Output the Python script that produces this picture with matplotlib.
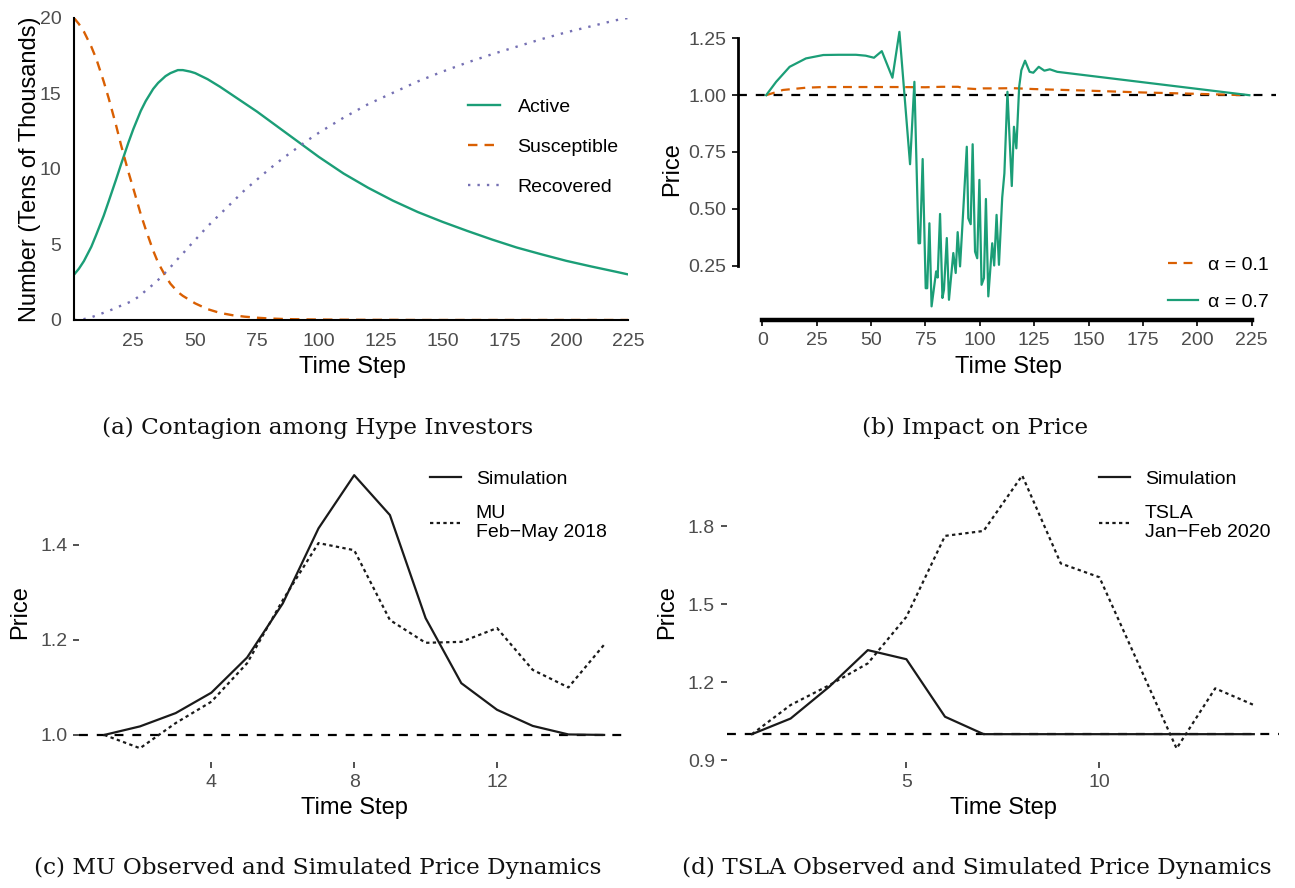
import matplotlib
matplotlib.use("Agg")
import matplotlib.pyplot as plt

plt.rcParams['font.family'] = ['Liberation Sans', 'DejaVu Sans']

# ---------------- data ----------------
# (a) contagion among hype investors (tens of thousands)
time_a = [1, 3, 5, 8, 10, 13, 15, 18, 20, 23, 25, 28, 30, 33, 35, 38, 40, 43, 45, 48, 50,
          55, 60, 65, 70, 75, 80, 85, 90, 95, 100,
          110, 120, 130, 140, 150, 160, 170, 180, 190, 200, 210, 220, 225]
active = [3.0, 3.4, 3.9, 4.85, 5.65, 6.9, 7.85, 9.3, 10.3, 11.75, 12.65, 13.85, 14.5, 15.3,
          15.7, 16.15, 16.35, 16.55, 16.55, 16.45, 16.35,
          15.95, 15.45, 14.9, 14.35, 13.8, 13.2, 12.6, 12.0, 11.4, 10.8,
          9.7, 8.75, 7.9, 7.15, 6.5, 5.9, 5.33, 4.8, 4.35, 3.92, 3.55, 3.2, 3.02]
susceptible = [20.0, 19.6, 19.1, 18.1, 17.3, 15.8, 14.7, 12.9, 11.6, 9.8, 8.7, 7.0, 6.0, 4.6,
               3.8, 2.9, 2.4, 1.85, 1.6, 1.3, 1.1,
               0.72, 0.47, 0.32, 0.22, 0.15, 0.1, 0.07, 0.05, 0.04, 0.03,
               0.02, 0.01, 0.01, 0.0, 0.0, 0.0, 0.0, 0.0, 0.0, 0.0, 0.0, 0.0, 0.0]
recovered = [0.0, 0.02, 0.06, 0.18, 0.3, 0.48, 0.6, 0.8, 0.95, 1.15, 1.3, 1.65, 1.95, 2.35,
             2.65, 3.15, 3.5, 4.05, 4.4, 4.95, 5.3,
             6.2, 7.0, 7.8, 8.6, 9.3, 10.0, 10.65, 11.25, 11.85, 12.4,
             13.4, 14.3, 15.05, 15.8, 16.45, 17.05, 17.6, 18.1, 18.6, 19.05, 19.45, 19.85,
             20.0]

# (b) impact on price
time_b_hi = [1.7, 6.3, 12.5, 20, 28, 35, 43, 47.5, 51.3, 54.9, 59.8, 63.0, 67.9, 69.9, 71.8,
             72.5, 73.7, 75.1, 75.8, 76.8, 77.8, 79.9, 80.6, 81.7, 82.8, 83.5, 84.8, 85.8,
             87.8, 88.9, 89.8, 90.9, 92.3, 94.0, 94.7, 95.8, 96.7, 97.8, 98.8, 99.8, 100.8,
             101.9, 102.8, 103.9, 105.7, 106.6, 107.7, 108.8, 110.3, 111.3, 112.7, 114.7,
             115.7, 116.8, 118.1, 119.1, 120.8, 122.9, 124.6, 127.1, 129.7, 132.2, 135.6, 224]
price_hi = [1.0, 1.059, 1.125, 1.162, 1.177, 1.178, 1.178, 1.174, 1.165, 1.194, 1.077, 1.279,
            0.696, 1.059, 0.348, 0.348, 0.719, 0.150, 0.150, 0.436, 0.070, 0.224, 0.197, 0.477,
            0.107, 0.143, 0.371, 0.099, 0.305, 0.217, 0.397, 0.246, 0.48, 0.773, 0.458, 0.432,
            0.784, 0.311, 0.282, 0.627, 0.165, 0.195, 0.543, 0.114, 0.348, 0.250, 0.473, 0.253,
            0.55, 0.656, 1.015, 0.60, 0.861, 0.766, 1.037, 1.11, 1.152, 1.103, 1.099, 1.125,
            1.108, 1.114, 1.103, 1.0]
time_b_lo = [1.7, 9.4, 20, 28, 60, 75, 82.5, 90, 93.2, 98.5, 101.6, 107.7, 115, 125, 150,
             175, 200, 222]
price_lo = [1.0, 1.023, 1.033, 1.036, 1.036, 1.035, 1.037, 1.037, 1.030, 1.027, 1.030, 1.030,
            1.031, 1.027, 1.020, 1.012, 1.006, 1.0]

# (c) MU
time_c = list(range(1, 16))
sim_mu = [1.0, 1.018, 1.046, 1.089, 1.163, 1.277, 1.435, 1.547, 1.463, 1.246, 1.109, 1.053,
          1.019, 1.001, 1.0]
obs_mu = [1.0, 0.972, 1.025, 1.070, 1.151, 1.284, 1.404, 1.389, 1.242, 1.194, 1.196, 1.225,
          1.137, 1.100, 1.19]

# (d) TSLA
time_d = list(range(1, 15))
sim_tsla = [1.0, 1.060, 1.182, 1.323, 1.288, 1.067, 1.0, 1.0, 1.0, 1.0, 1.0, 1.0, 1.0, 1.0]
obs_tsla = [1.0, 1.112, 1.188, 1.272, 1.451, 1.762, 1.781, 1.994, 1.656, 1.603, 1.274, 0.945,
            1.176, 1.112]

captions = ["(a) Contagion among Hype Investors", "(b) Impact on Price",
            "(c) MU Observed and Simulated Price Dynamics",
            "(d) TSLA Observed and Simulated Price Dynamics"]

# ---------------- style ----------------
GREEN, ORANGE, PURPLE = '#1B9E77', '#D95F02', '#7570B3'
TICKC = '#4D4D4D'
TITLE_FS = 17
TICK_FS = 14
LEG_FS = 14
W, H = 1295, 888

fig = plt.figure(figsize=(W / 100, H / 100), dpi=100)


def ax_at(l, t, r, b):
    return fig.add_axes([l / W, 1 - b / H, (r - l) / W, (b - t) / H])


def place_legend(ax, x, y, **kw):
    return ax.legend(loc='upper left', bbox_to_anchor=(x / W, 1 - y / H),
                     bbox_transform=fig.transFigure, frameon=False, fontsize=LEG_FS,
                     borderpad=0, borderaxespad=0, **kw)


# ---- (a) ----
axA = ax_at(74, 18, 628, 320)
axA.plot(time_a, active, color=GREEN, lw=1.7, label='Active')
axA.plot(time_a, susceptible, color=ORANGE, lw=1.7, ls=(0, (4, 3)), label='Susceptible')
axA.plot(time_a, recovered, color=PURPLE, lw=1.7, ls=(0, (1, 3)), label='Recovered')
axA.set_xlim(1, 225)
axA.set_ylim(0, 20)
axA.set_xticks(range(25, 226, 25))
axA.set_yticks([0, 5, 10, 15, 20])
for s in ['top', 'right']:
    axA.spines[s].set_visible(False)
for s in ['left', 'bottom']:
    axA.spines[s].set_linewidth(1.5)
    axA.spines[s].set_color('black')
axA.tick_params(length=0, labelsize=TICK_FS, labelcolor=TICKC, pad=9)
axA.set_xlabel('Time Step', fontsize=TITLE_FS)
axA.set_ylabel('Number (Tens of Thousands)', fontsize=TITLE_FS)
axA.xaxis.set_label_coords(0.502, -0.156)
axA.xaxis.label.set_va('center')
axA.yaxis.set_label_coords(-0.079, 0.5)
axA.yaxis.label.set_va('center')
place_legend(axA, 468, 98, handlelength=1.65, handletextpad=0.9, labelspacing=1.16)

# ---- (b) ----
axB = ax_at(738, 18, 1276, 320)
axB.axhline(1.0, color='black', lw=1.6, ls=(0, (4, 4)))
axB.plot(time_b_lo, price_lo, color=ORANGE, lw=1.6, ls=(0, (4, 3)), label='α = 0.1')
axB.plot(time_b_hi, price_hi, color=GREEN, lw=1.6, label='α = 0.7')
axB.set_xlim(-11.25, 236.25)
axB.set_ylim(0.01, 1.34)
axB.set_xticks(range(0, 226, 25))
axB.set_yticks([0.25, 0.5, 0.75, 1.0, 1.25])
axB.set_yticklabels(['0.25', '0.50', '0.75', '1.00', '1.25'])
for s in ['top', 'right']:
    axB.spines[s].set_visible(False)
axB.spines['left'].set_bounds(0.25, 1.25)
axB.spines['bottom'].set_bounds(0, 225)
axB.spines['left'].set_linewidth(2.0)
axB.spines['bottom'].set_linewidth(3.2)
axB.tick_params(length=4.5, width=1.2, color='black', labelsize=TICK_FS, labelcolor=TICKC,
                pad=4)
axB.set_xlabel('Time Step', fontsize=TITLE_FS)
axB.set_ylabel('Price', fontsize=TITLE_FS)
axB.xaxis.set_label_coords(0.502, -0.156)
axB.xaxis.label.set_va('center')
axB.yaxis.set_label_coords(-0.1227, 0.5)
axB.yaxis.label.set_va('center')
place_legend(axB, 1168, 256, handlelength=1.55, handletextpad=0.5, labelspacing=1.0)


# ---- (c) and (d) ----
def price_panel(box, t, sim, obs, obs_label, xlim, ylim, xt, yt, ytl, leg_x):
    ax = ax_at(*box)
    ax.axhline(1.0, color='black', lw=1.6, ls=(0, (4, 4)))
    ax.plot(t, sim, color='#1a1a1a', lw=1.6, label='Simulation')
    ax.plot(t, obs, color='#1a1a1a', lw=1.6, ls=(0, (1.5, 1.5)), label=obs_label)
    ax.set_xlim(*xlim)
    ax.set_ylim(*ylim)
    ax.set_xticks(xt)
    ax.set_yticks(yt)
    ax.set_yticklabels(ytl)
    for s in ax.spines.values():
        s.set_visible(False)
    ax.tick_params(length=4.5, width=1.2, color='#333333', labelsize=TICK_FS,
                   labelcolor=TICKC, pad=4)
    ax.set_xlabel('Time Step', fontsize=TITLE_FS)
    ax.set_ylabel('Price', fontsize=TITLE_FS)
    ax.xaxis.set_label_coords(0.501, -0.153)
    ax.xaxis.label.set_va('center')
    ax.yaxis.set_label_coords(-0.108, 0.5)
    ax.yaxis.label.set_va('center')
    place_legend(ax, leg_x, 470, handlelength=1.6, handletextpad=0.75, labelspacing=0.88)
    return ax


axC = price_panel((79.3, 461.4, 629.1, 762), time_c, sim_mu, obs_mu, 'MU\nFeb\u2212May 2018',
                  (0.3, 15.7), (0.943, 1.576), [4, 8, 12], [1.0, 1.2, 1.4],
                  ['1.0', '1.2', '1.4'], 430)
axD = price_panel((726.9, 462, 1278.9, 762), time_d, sim_tsla, obs_tsla,
                  'TSLA\nJan\u2212Feb 2020', (0.35, 14.65), (0.893, 2.046), [5, 10],
                  [0.9, 1.2, 1.5, 1.8], ['0.9', '1.2', '1.5', '1.8'], 1099)

# ---- captions ----
cap_pos = [(318, 428), (975, 428), (318, 868), (977, 868)]
for txt, (cx, cy) in zip(captions, cap_pos):
    fig.text(cx / W, 1 - cy / H, txt, ha='center', va='center', fontsize=16.7,
             family='DejaVu Serif', color='#111111')

fig.savefig('out.png', dpi=100)
